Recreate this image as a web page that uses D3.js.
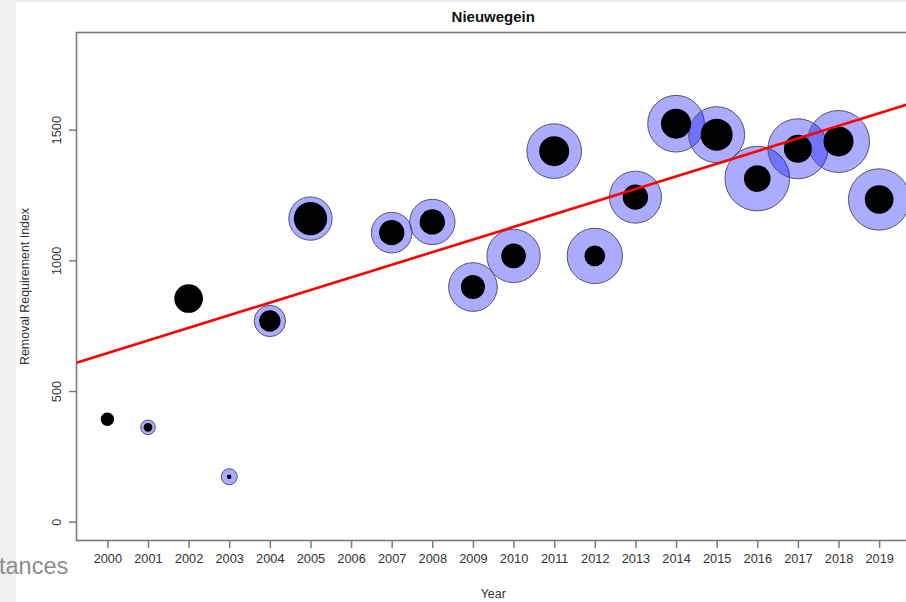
<!DOCTYPE html>
<html>
<head>
<meta charset="utf-8">
<script src="https://cdn.jsdelivr.net/npm/d3@7"></script>
<style>
  html, body { margin: 0; padding: 0; background: #ffffff; }
  svg { display: block; }
  text { font-family: "Liberation Sans", Arial, sans-serif; }
</style>
</head>
<body>
<svg id="chart" width="906" height="602"></svg>
<script>
// Yearly observations for Nieuwegein
const years = [2000, 2001, 2002, 2003, 2004, 2005, 2007, 2008, 2009, 2010,
               2011, 2012, 2013, 2014, 2015, 2016, 2017, 2018, 2019];
const removalIndex = [392, 361, 854, 172, 768, 1160, 1106, 1147, 898, 1017,
                      1418, 1017, 1242, 1523, 1481, 1313, 1427, 1455, 1233];
// Circle sizes: outer (blue) and inner (black) symbol size per year
const outerSize = [0, 22, 0, 24, 47, 65, 61, 68, 73, 80,
                   82, 83, 78, 85, 84, 97, 90, 93, 92];
const innerSize = [20, 13, 43, 7, 32, 50, 38, 38, 36, 37,
                   45, 31, 38, 45, 48, 40, 42, 45, 43];
// Trend line: value at 2000 and yearly slope
const trendIntercept = 645;
const trendSlope = 48.3;
// Axis ticks
const xTicks = d3.range(2000, 2020);
const yTicks = [0, 500, 1000, 1500];

const svg = d3.select("#chart");
const W = 906, H = 602;
const plot = { left: 76.5, right: 910, top: 32.5, bottom: 540.5 };

// Page backdrop: light strip on the left and top edges
svg.append("rect").attr("x", 0).attr("y", 0).attr("width", W).attr("height", H).attr("fill", "#ffffff");
svg.append("rect").attr("x", 0).attr("y", 0).attr("width", 16).attr("height", H).attr("fill", "#f0f0f0");
svg.append("rect").attr("x", 0).attr("y", 0).attr("width", W).attr("height", 2).attr("fill", "#f0f0f0");

// Scales (R-style 4% padding around the data ranges)
const xPad = (2019 - 2000) * 0.04;
const x = d3.scaleLinear().domain([2000 - xPad, 2019 + xPad]).range([plot.left, plot.right]);
const yPad = 1800 * 0.04;
const y = d3.scaleLinear().domain([0 - yPad, 1800 + yPad]).range([plot.bottom, plot.top]);
const r = d3.scaleLinear().domain([0, 100]).range([0, 33.33]);

const data = years.map((yr, i) => ({ year: yr, value: removalIndex[i], outer: outerSize[i], inner: innerSize[i] }));

// Plot frame
svg.append("rect")
  .attr("x", plot.left).attr("y", plot.top)
  .attr("width", plot.right - plot.left).attr("height", plot.bottom - plot.top)
  .attr("fill", "none").attr("stroke", "#7c7c7c").attr("stroke-width", 1.6);

// X axis
const xAxis = svg.append("g")
  .attr("transform", `translate(0,${plot.bottom})`)
  .call(d3.axisBottom(x).tickValues(xTicks).tickFormat(d3.format("d")).tickSize(7.5).tickPadding(6));
xAxis.select(".domain").remove();
xAxis.selectAll(".tick line").attr("stroke", "#7c7c7c").attr("stroke-width", 1.5);
xAxis.selectAll(".tick text")
  .attr("fill", "#333333").attr("font-size", "12.8px")
  .attr("font-family", "Liberation Sans, Arial, sans-serif");

// Y axis with rotated labels
const yAxis = svg.append("g")
  .attr("transform", `translate(${plot.left},0)`)
  .call(d3.axisLeft(y).tickValues(yTicks).tickSize(7.5).tickFormat(d3.format("d")));
yAxis.select(".domain").remove();
yAxis.selectAll(".tick line").attr("stroke", "#7c7c7c").attr("stroke-width", 1.5);
yAxis.selectAll(".tick text").remove();
yAxis.selectAll(".tick").append("text")
  .attr("transform", "translate(-16,0) rotate(-90)")
  .attr("text-anchor", "middle")
  .attr("fill", "#333333").attr("font-size", "12.8px")
  .attr("font-family", "Liberation Sans, Arial, sans-serif")
  .text(d => d3.format("d")(d));

// Clip marks to the plot region
svg.append("clipPath").attr("id", "plotClip")
  .append("rect").attr("x", plot.left).attr("y", plot.top)
  .attr("width", plot.right - plot.left).attr("height", plot.bottom - plot.top);
const marks = svg.append("g").attr("clip-path", "url(#plotClip)");

// Outer translucent circles
marks.selectAll("circle.outer")
  .data(data.filter(d => d.outer > 0))
  .join("circle")
  .attr("class", "outer")
  .attr("cx", d => x(d.year)).attr("cy", d => y(d.value))
  .attr("r", d => r(d.outer))
  .attr("fill", "rgba(0,0,255,0.33)")
  .attr("stroke", "#555566").attr("stroke-width", 1);

// Inner solid circles
marks.selectAll("circle.inner")
  .data(data)
  .join("circle")
  .attr("class", "inner")
  .attr("cx", d => x(d.year)).attr("cy", d => y(d.value))
  .attr("r", d => r(d.inner))
  .attr("fill", "#000000");

// Trend line across the plot
const xd = x.domain();
marks.append("line")
  .attr("x1", x(xd[0])).attr("y1", y(trendIntercept + trendSlope * (xd[0] - 2000)))
  .attr("x2", x(xd[1])).attr("y2", y(trendIntercept + trendSlope * (xd[1] - 2000)))
  .attr("stroke", "#ff0000").attr("stroke-width", 2.6);

// Title and axis titles
svg.append("text")
  .attr("x", (plot.left + plot.right) / 2).attr("y", 22)
  .attr("text-anchor", "middle")
  .attr("font-weight", "bold").attr("font-size", "15px").attr("fill", "#111111")
  .text("Nieuwegein");

svg.append("text")
  .attr("x", (plot.left + plot.right) / 2).attr("y", 598)
  .attr("text-anchor", "middle")
  .attr("font-size", "12.4px").attr("fill", "#333333")
  .text("Year");

svg.append("text")
  .attr("transform", `translate(29,${(plot.top + plot.bottom) / 2}) rotate(-90)`)
  .attr("text-anchor", "middle")
  .attr("font-size", "12.4px").attr("fill", "#333333")
  .text("Removal Requirement Index");

// Fragment of surrounding page text at bottom-left
svg.append("text")
  .attr("x", -1).attr("y", 574)
  .attr("text-anchor", "start")
  .attr("font-family", "Open Sans, Lato, sans-serif")
  .attr("font-size", "23.5px").attr("fill", "#8c8c8c")
  .text("tances");
</script>
</body>
</html>
